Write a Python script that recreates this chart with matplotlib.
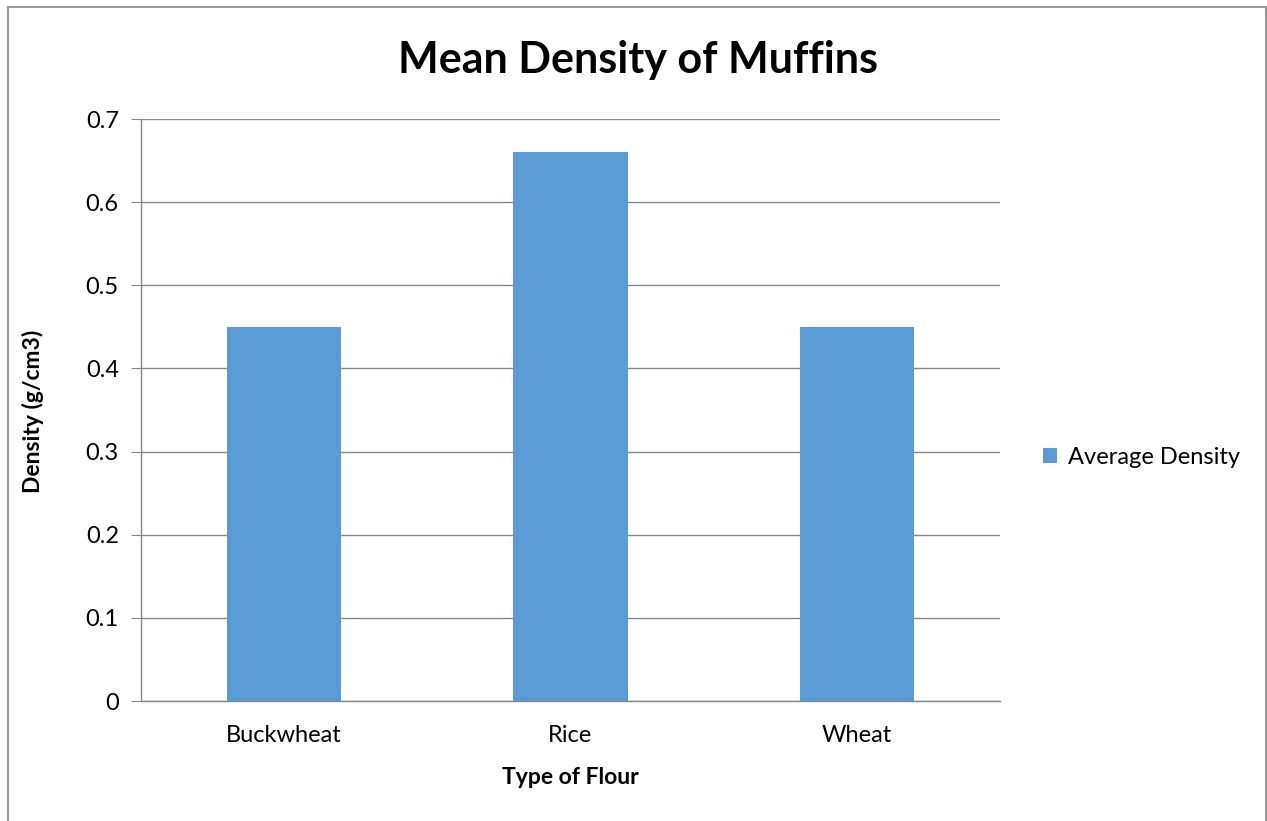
import matplotlib.pyplot as plt
from matplotlib.patches import Rectangle

plt.rcParams['font.family'] = ['Lato', 'DejaVu Sans']

flours = ["Buckwheat", "Rice", "Wheat"]
avg_density = [0.45, 0.66, 0.45]
yticks = [0, 0.1, 0.2, 0.3, 0.4, 0.5, 0.6, 0.7]

bar_color = "#5B9BD5"
line_color = "#888888"

W, H = 1267, 821
fig = plt.figure(figsize=(W / 100, H / 100), dpi=100)
ax = fig.add_axes([141 / W, 1 - 701 / H, 859 / W, 582 / H])

x = range(len(flours))
ax.bar(x, avg_density, width=0.4, color=bar_color, label="Average Density", zorder=3)

ax.set_xlim(-0.5, len(flours) - 0.5)
ax.set_ylim(0, 0.7)
ax.set_yticks(yticks)
ax.set_yticklabels([f"{v:g}" for v in yticks])
ax.set_xticks(list(x))
ax.set_xticklabels(flours)

ax.yaxis.grid(True, color=line_color, linewidth=1, zorder=0)
for side in ("top", "right"):
    ax.spines[side].set_visible(False)
for side in ("left", "bottom"):
    ax.spines[side].set_color(line_color)
    ax.spines[side].set_linewidth(1)

ax.tick_params(axis="y", length=7, color=line_color, labelsize=17, pad=9)
ax.tick_params(axis="x", length=0, labelsize=17, pad=17)

# titles placed in figure coordinates
fig.text(638 / W, 1 - 60 / H, "Mean Density of Muffins", ha="center", va="center",
         fontsize=31, fontweight="bold")
fig.text(570 / W, 1 - 777 / H, "Type of Flour", ha="center", va="center",
         fontsize=16.5, fontweight="bold")
fig.text(33 / W, 1 - 411 / H, "Density (g/cm3)", ha="center", va="center",
         rotation=90, fontsize=16.5, fontweight="bold")

ax.legend(loc="center left", bbox_to_anchor=((1043 - 141) / 859, (701 - 457) / 582),
          frameon=False, fontsize=17, borderpad=0, borderaxespad=0,
          handlelength=0.6, handleheight=0.6, handletextpad=0.45)

# outer chart border
fig.patches.append(Rectangle((8 / W, -0.01), 1258 / W, 1 - 7 / H + 0.01,
                             transform=fig.transFigure, fill=False,
                             edgecolor="#999999", linewidth=1.5))

fig.savefig("out.png", dpi=100)
